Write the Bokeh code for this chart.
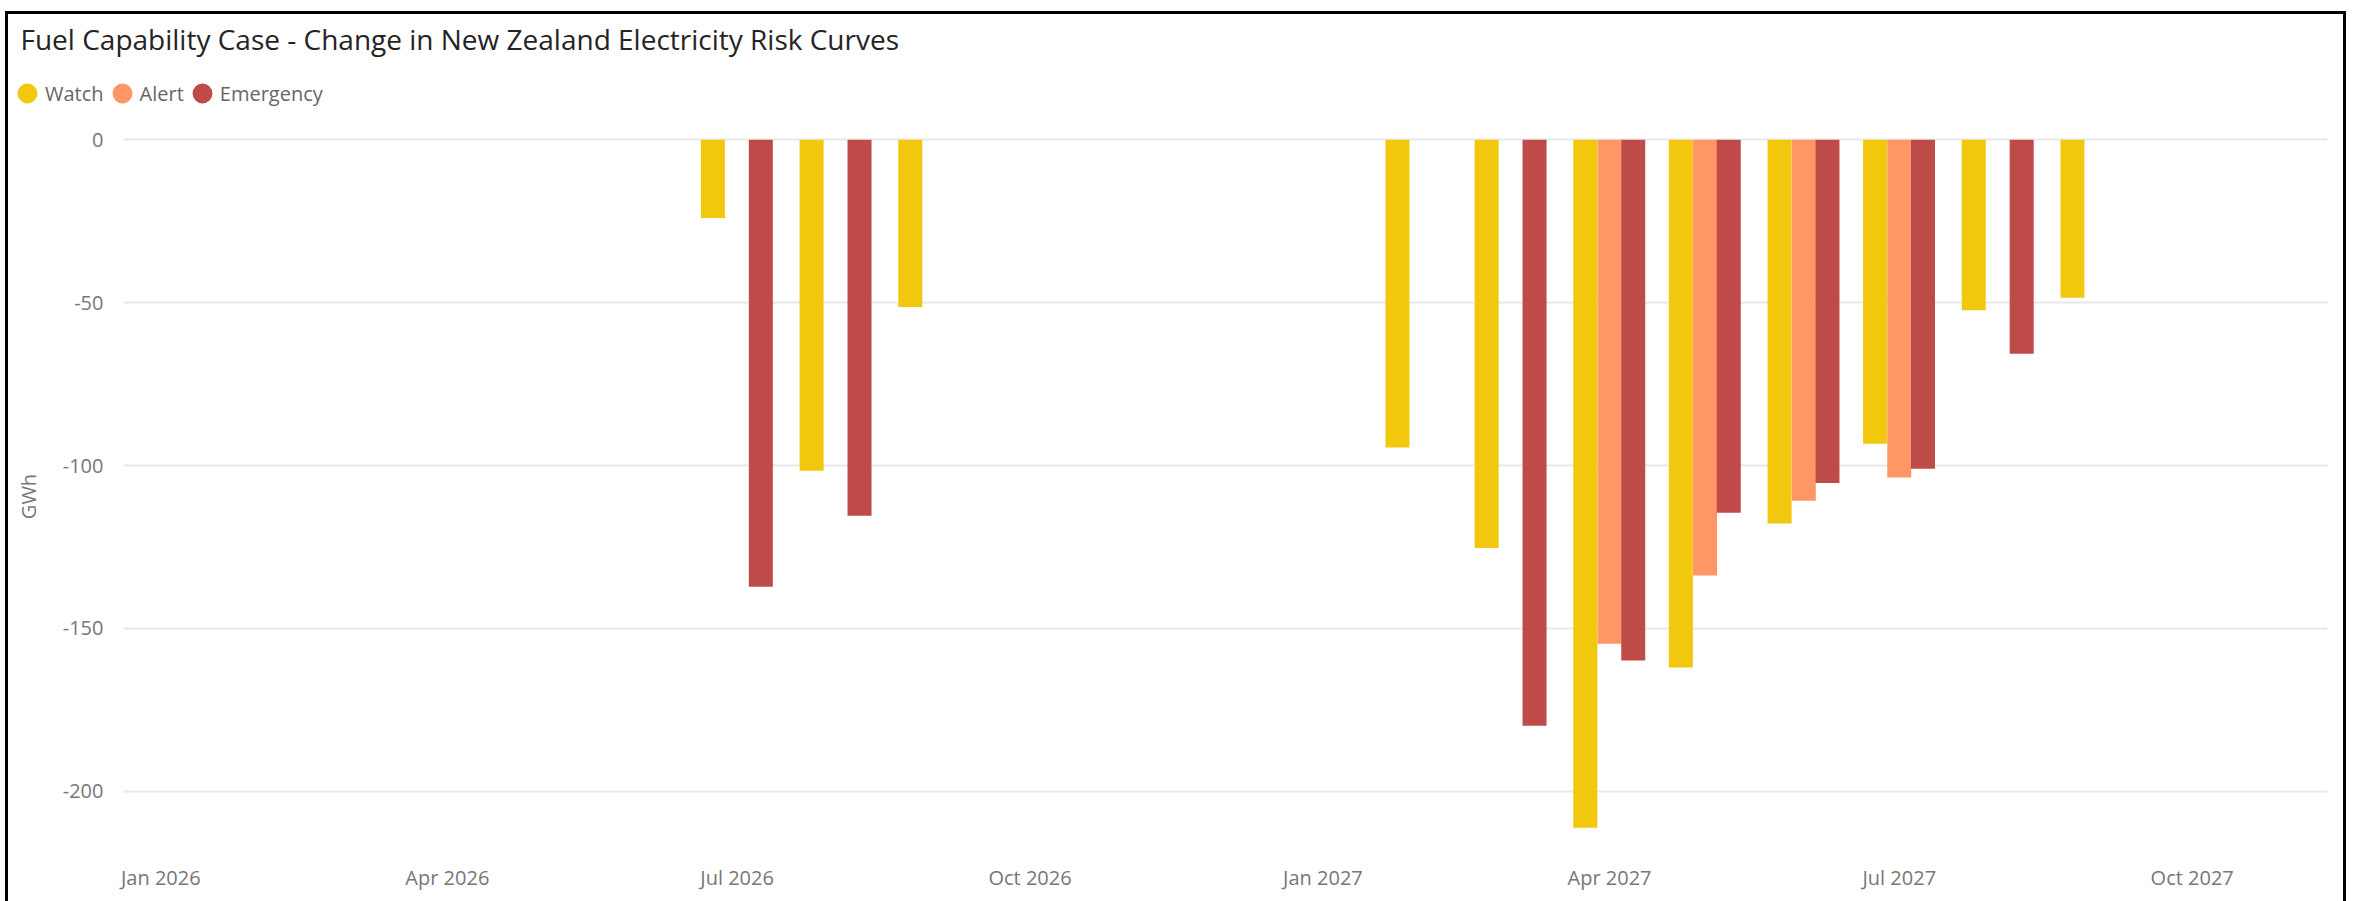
import math
import pandas as pd
from bokeh.plotting import figure
from bokeh.models import (ColumnDataSource, Range1d, FixedTicker, DatetimeTickFormatter,
                          Label, Legend, LegendItem, BoxAnnotation, InlineStyleSheet)
from bokeh.transform import dodge
from bokeh.embed import file_html
from bokeh.resources import INLINE

# ---------------- data ----------------
title_text = "Fuel Capability Case - Change in New Zealand Electricity Risk Curves"
y_label = "GWh"
series_names = ["Watch", "Alert", "Emergency"]
series_colors = ["#F2C80F", "#FE9666", "#BF4B49"]

months = ["2026-07-01", "2026-08-01", "2026-09-01", "2027-02-01", "2027-03-01",
          "2027-04-01", "2027-05-01", "2027-06-01", "2027-07-01", "2027-08-01", "2027-09-01"]
watch = [-24.0, -101.6, -51.3, -94.5, -125.3, -211.2, -162.0, -117.8, -93.3, -52.3, -48.5]
alert = [None, None, None, None, None, -154.7, -133.8, -110.8, -103.7, None, None]
emergency = [-137.2, -115.4, None, None, -179.9, -159.9, -114.5, -105.4, -101.0, -65.7, None]

x_tick_dates = ["2026-01-01", "2026-04-01", "2026-07-01", "2026-10-01",
                "2027-01-01", "2027-04-01", "2027-07-01", "2027-10-01"]
y_ticks = [-200, -150, -100, -50, 0]

# ---------------- layout constants ----------------
W, H = 2354, 901
FL, FR, FT, FB = 6, 2327, 15, 848      # frame edges on canvas
GRID_LEFT = 123                        # where the visible plot area starts
PX_PER_DAY = 3.184
PX_PER_UNIT = 3.257
ZERO_Y = 139.3
JAN26_X = 160.3
DAY = 86400000.0
FONT = "Open Sans"

t0 = pd.Timestamp("2026-01-01")
x_start = (t0 - pd.Timedelta(days=(JAN26_X - FL) / PX_PER_DAY)).value / 1e6
x_end = (t0 + pd.Timedelta(days=(FR - JAN26_X) / PX_PER_DAY)).value / 1e6
y_end = (ZERO_Y - FT) / PX_PER_UNIT
y_start = -(FB - ZERO_Y) / PX_PER_UNIT

border_css = InlineStyleSheet(css="""
:host { position: relative; }
:host::after {
  content: ""; position: absolute; left: 5px; top: 11px;
  width: 2341px; height: 890px; box-sizing: border-box;
  border: 3px solid #000; border-bottom: none; pointer-events: none;
}
""")

p = figure(width=W, height=H, x_axis_type="datetime", output_backend="svg",
           toolbar_location=None, tools="",
           x_range=Range1d(x_start, x_end), y_range=Range1d(y_start, y_end),
           min_border_left=FL, min_border_right=W - FR,
           min_border_top=FT, min_border_bottom=H - FB,
           stylesheets=[border_css])
p.outline_line_color = None
p.background_fill_color = "white"
p.border_fill_color = "white"

# hide the gridlines left of the visible plot area
p.add_layout(BoxAnnotation(left=-20, right=GRID_LEFT - FL, left_units="screen", right_units="screen",
                           fill_color="white", fill_alpha=1, line_alpha=0, level="underlay"))

# bars
values = {"Watch": watch, "Alert": alert, "Emergency": emergency}
offsets = {"Watch": -7.6 * DAY, "Alert": 0.0, "Emergency": 7.45 * DAY}
bar_w = 7.54 * DAY
dummies = []
for name, color in zip(series_names, series_colors):
    vals = values[name]
    xs = [pd.Timestamp(m) for m, v in zip(months, vals) if v is not None]
    ys = [v for v in vals if v is not None]
    src = ColumnDataSource(data=dict(date=xs, value=ys))
    p.vbar(x=dodge("date", offsets[name], range=p.x_range), top="value", bottom=0,
           width=bar_w, source=src, fill_color=color, line_color=None)
    # legend-only marker (single NaN point, never drawn in the plot area)
    d = p.scatter(x=[float("nan")], y=[float("nan")], marker="circle",
                  fill_color=color, line_color=color, line_width=5.5)
    dummies.append(d)

# axes
p.xaxis.ticker = FixedTicker(ticks=[pd.Timestamp(d).value / 1e6 for d in x_tick_dates])
fmt = "%b %Y"
p.xaxis.formatter = DatetimeTickFormatter(years=fmt, months=fmt, days=fmt, hours=fmt,
                                          minutes=fmt, seconds=fmt, milliseconds=fmt,
                                          microseconds=fmt, hourmin=fmt, minsec=fmt)
p.yaxis.ticker = FixedTicker(ticks=y_ticks)
p.yaxis.major_label_overrides = {t: str(t) for t in y_ticks}
for ax in (p.xaxis[0], p.yaxis[0]):
    ax.axis_line_color = None
    ax.major_tick_line_color = None
    ax.minor_tick_line_color = None
    ax.major_tick_out = 0
    ax.major_tick_in = 0
    ax.major_label_text_font = FONT
    ax.major_label_text_font_size = "20px"
    ax.major_label_text_color = "#777777"
p.xaxis.major_label_standoff = 15
p.yaxis.major_label_standoff = -(103 - FL)

p.xgrid.visible = False
p.ygrid.grid_line_color = "#E8E8E8"
p.ygrid.grid_line_width = 2

# y axis title (rotated), placed beside the tick labels
p.add_layout(Label(x=27.5 - FL, y=FB - 496, x_units="screen", y_units="screen",
                   text=y_label, angle=math.pi / 2, text_font=FONT, text_font_size="20px",
                   text_color="#777777", text_align="center", text_baseline="middle"))

# title
p.add_layout(Label(x=14, y=FB - 38, x_units="screen", y_units="screen",
                   text=title_text, text_font=FONT, text_font_size="28px",
                   text_color="#252423", text_baseline="alphabetic", text_align="left"))

# legend
G = 36
legend = Legend(items=[LegendItem(label=n, renderers=[r]) for n, r in zip(series_names, dummies)],
                orientation="horizontal", location=(27 - G / 2 - FL, FB - 93 - G / 2),
                glyph_width=G, glyph_height=G, label_height=20,
                label_standoff=0, spacing=0, padding=0, margin=0,
                label_text_font=FONT, label_text_font_size="20px",
                label_text_color="#666666",
                border_line_color=None, background_fill_alpha=0)
p.add_layout(legend)

open("out.html", "w").write(file_html(p, INLINE))
